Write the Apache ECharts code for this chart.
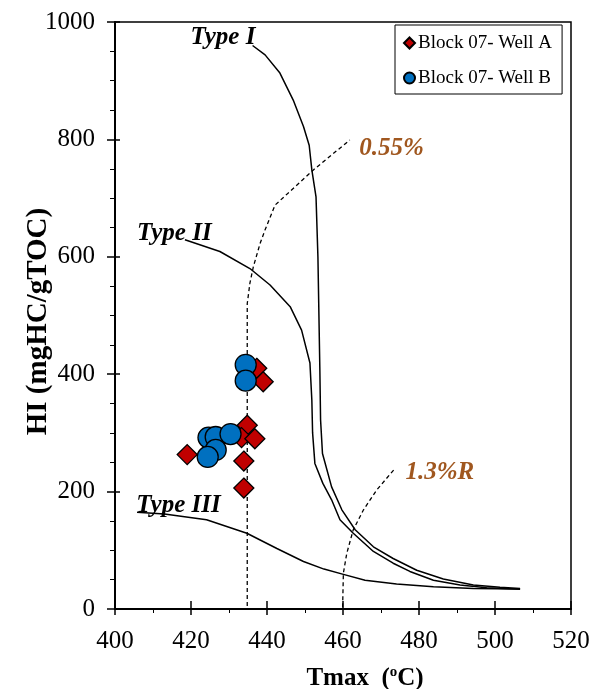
<!DOCTYPE html>
<html>
<head>
<meta charset="utf-8">
<script src="https://cdn.jsdelivr.net/npm/echarts@6/dist/echarts.min.js"></script>
<style>
html,body{margin:0;padding:0;background:#fff;}
#chart{width:593px;height:689px;}
</style>
</head>
<body>
<div id="chart"></div>
<script>
// ---- Data ----
const seriesNames = ['Block 07- Well A', 'Block 07- Well B'];
const tmaxA = [419.0, 437.3, 439.0, 434.8, 433.3, 436.8, 433.9, 433.9];
const hiA   = [263, 410, 387, 313, 292, 290, 252, 206];
const tmaxB = [434.4, 434.4, 424.6, 426.5, 430.4, 426.5, 424.4];
const hiB   = [416, 389, 292, 293, 298, 271, 259];

// kerogen type boundary curves
const typeI_T  = [436.2, 439.5, 443.4, 446.9, 449.6, 451.1, 451.8, 452.9, 453.4, 453.9, 454.1, 454.6, 457.0, 459.7, 463.2, 468.0, 473.2, 479.4, 486.4, 494.3, 501.3, 506.6];
const typeI_HI = [960, 944, 913, 867, 822, 790, 748, 702, 600, 412, 322, 265, 208, 169, 135, 106, 86, 66, 51, 41, 37, 35];
const typeII_T  = [418.4, 427.6, 435.5, 440.8, 446.1, 449.1, 451.3, 451.8, 452.0, 452.6, 454.7, 457.0, 459.2, 462.7, 468.0, 473.2, 477.6, 483.8, 490.8, 497.8, 506.6];
const typeII_HI = [629, 609, 580, 552, 515, 475, 419, 356, 300, 248, 214, 186, 152, 129, 98, 78, 64, 49, 41, 36, 33.5];
const typeIII_T  = [405.8, 413.0, 424.1, 434.7, 442.6, 449.6, 455.0, 460.1, 465.8, 474.1, 483.8, 494.3, 506.6];
const typeIII_HI = [165, 162, 152, 129, 103, 81, 68, 59, 49, 42.6, 38, 35, 34];
// vitrinite reflectance iso-lines
const ro055_T  = [434.8, 434.8, 435.5, 436.4, 438.2, 439.5, 442.1, 452.2, 461.8];
const ro055_HI = [5, 520, 555, 583, 623, 646, 688, 748, 799];
const ro13_T   = [459.9, 460.1, 461.0, 462.7, 465.4, 468.9, 473.5];
const ro13_HI  = [3, 61, 95, 135, 169, 203, 238];

// annotations
const noteText = ['Type I', 'Type II', 'Type III', '0.55%', '1.3%R'];
const noteT    = [428.4, 415.6, 416.7, 472.8, 485.5];
const noteHI   = [973, 640, 176, 785, 233];

// axes
const xMin = 400, xMax = 520, xStep = 20;
const yMin = 0, yMax = 1000, yStep = 200;

// ---- Build ----
function zip(a, b) { return a.map((v, i) => [v, b[i]]); }
const FONT = '"Liberation Serif", "Times New Roman", serif';
const BROWN = '#A0571F';

const chart = echarts.init(document.getElementById('chart'), null, {renderer: 'canvas'});

const lineStyleSolid = {color: '#000', width: 1.5};
const lineStyleDash = {color: '#000', width: 1.3, type: [4, 3]};

function curve(name, T, HI, style) {
  return {
    name: name, type: 'line', data: zip(T, HI), showSymbol: false, symbol: 'none',
    lineStyle: style, silent: true, z: 2, xAxisIndex: 0, yAxisIndex: 0
  };
}

const noteColors = ['#000', '#000', '#000', BROWN, BROWN];

const option = {
  backgroundColor: '#fff',
  animation: false,
  textStyle: {fontFamily: FONT},
  grid: {left: 115, top: 22, right: 22, bottom: 80, show: true, borderColor: '#000', borderWidth: 1.5,
    backgroundColor: 'transparent', containLabel: false, outerBoundsMode: 'none'},
  legend: {
    data: seriesNames,
    orient: 'vertical',
    left: 395, top: 25,
    width: 164,
    padding: [8, 10, 6, 8],
    itemGap: 15,
    itemWidth: 11, itemHeight: 11,
    borderColor: '#000', borderWidth: 1,
    backgroundColor: '#fff',
    textStyle: {fontFamily: FONT, fontSize: 19, color: '#000', lineHeight: 20, padding: [0, 0, 0, -2]}
  },
  xAxis: [{
    type: 'value', min: xMin, max: xMax, interval: xStep,
    name: 'Tmax  ({s|o}C)', nameLocation: 'middle', nameGap: 56, nameMoveOverlap: false,
    nameTextStyle: {fontFamily: FONT, fontSize: 25, fontWeight: 'bold', color: '#000', padding: [0, 0, 0, 44],
      rich: {s: {fontFamily: FONT, fontSize: 15, fontWeight: 'bold', color: '#000', verticalAlign: 'top', padding: [0, 0, 12, 0]}}},
    axisLine: {show: true, onZero: false, lineStyle: {color: '#000', width: 2}},
    axisTick: {show: true, inside: false, length: 6, lineStyle: {color: '#000', width: 1.5}},
    minorTick: {show: true, splitNumber: 2, length: 4, lineStyle: {color: '#000', width: 1}},
    axisLabel: {fontFamily: FONT, fontSize: 25, color: '#000', margin: 20},
    splitLine: {show: false}
  }, {
    type: 'value', min: xMin, max: xMax, interval: xStep, position: 'bottom',
    axisLine: {show: false}, axisLabel: {show: false}, splitLine: {show: false},
    axisTick: {show: true, inside: true, length: 8, lineStyle: {color: '#000', width: 1.5}}
  }],
  yAxis: [{
    type: 'value', min: yMin, max: yMax, interval: yStep,
    name: 'HI (mgHC/gTOC)', nameLocation: 'middle', nameGap: 62, nameRotate: 90, nameMoveOverlap: false,
    nameTextStyle: {fontFamily: FONT, fontSize: 29, fontWeight: 'bold', color: '#000', padding: [0, 12, 0, 0]},
    axisLine: {show: true, onZero: false, lineStyle: {color: '#000', width: 2}},
    axisTick: {show: true, inside: false, length: 8, lineStyle: {color: '#000', width: 1.5}},
    minorTick: {show: true, splitNumber: 4, length: 5, lineStyle: {color: '#000', width: 1}},
    axisLabel: {fontFamily: FONT, fontSize: 25, color: '#000', margin: 20, formatter: v => String(v)},
    splitLine: {show: false}
  }, {
    type: 'value', min: yMin, max: yMax, interval: yStep, position: 'left',
    axisLine: {show: false}, axisLabel: {show: false}, splitLine: {show: false},
    axisTick: {show: true, inside: true, length: 5, lineStyle: {color: '#000', width: 1.5}}
  }],
  series: [
    curve('typeI', typeI_T, typeI_HI, lineStyleSolid),
    curve('typeII', typeII_T, typeII_HI, lineStyleSolid),
    curve('typeIII', typeIII_T, typeIII_HI, lineStyleSolid),
    curve('ro055', ro055_T, ro055_HI, lineStyleDash),
    curve('ro13', ro13_T, ro13_HI, lineStyleDash),
    {
      name: 'notes', type: 'scatter', symbolSize: 0, silent: true, z: 3,
      itemStyle: {opacity: 1},
      data: noteText.map((t, i) => ({
        value: [noteT[i], noteHI[i]],
        label: {show: true, formatter: t, color: noteColors[i]}
      })),
      label: {show: true, position: [0, 0], align: 'center', verticalAlign: 'middle',
        fontFamily: FONT, fontSize: 25, fontWeight: 'bold', fontStyle: 'italic'}
    },
    {
      name: seriesNames[0], type: 'scatter', data: zip(tmaxA, hiA), z: 4,
      symbol: 'diamond', symbolSize: 20,
      itemStyle: {color: '#C00000', borderColor: '#000', borderWidth: 1.3, opacity: 1}
    },
    {
      name: seriesNames[1], type: 'scatter', data: zip(tmaxB, hiB), z: 5,
      symbol: 'circle', symbolSize: 21,
      itemStyle: {color: '#0070C0', borderColor: '#000', borderWidth: 1.3, opacity: 1}
    }
  ]
};
chart.setOption(option);
</script>
</body>
</html>
